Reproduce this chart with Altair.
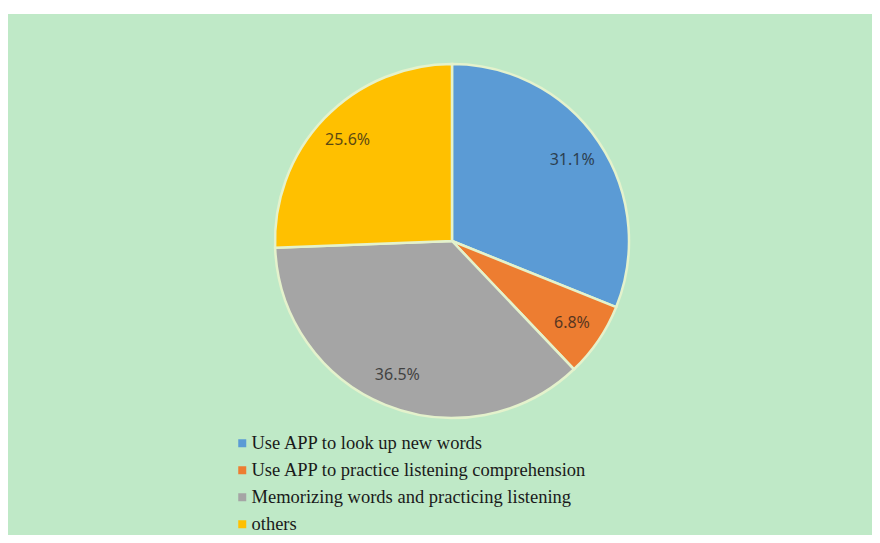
import altair as alt
import pandas as pd

categories = [
    "Use APP to look up new words",
    "Use APP to practice listening comprehension",
    "Memorizing words and practicing listening",
    "others",
]
values = [31.1, 6.8, 36.5, 25.6]
labels = ["31.1%", "6.8%", "36.5%", "25.6%"]
colors = ["#5B9BD5", "#ED7D31", "#A5A5A5", "#FFC000"]

df = pd.DataFrame({"category": categories, "value": values, "label": labels,
                   "order": list(range(len(categories)))})

W, H = 864, 521
cx, cy = 444, 227
R = 177

bg = alt.Chart(pd.DataFrame({"a": [0]})).mark_rect(color="#BFE9C7").encode(
    x=alt.value(0), x2=alt.value(W), y=alt.value(0), y2=alt.value(H)
)

base = alt.Chart(df).encode(
    theta=alt.Theta("value:Q", stack=True),
    order=alt.Order("order:Q"),
)

arc = base.mark_arc(outerRadius=R, stroke="#E4F2CC", strokeWidth=2.5).encode(
    color=alt.Color(
        "category:N",
        scale=alt.Scale(domain=categories, range=colors),
        legend=alt.Legend(
            title=None, orient="none", legendX=225, legendY=420,
            symbolType="square", symbolSize=64, symbolStrokeWidth=0,
            labelFont="Liberation Serif", labelFontSize=18.5, labelColor="#1a1a1a",
            rowPadding=8, labelOffset=0, padding=0, labelLimit=0,
        ),
    ),
    x=alt.value(cx),
    y=alt.value(cy),
)

text = base.mark_text(radius=145, font="Noto Sans", fontSize=16,
                      fill="#1a1a1a", opacity=0.72).encode(
    text="label:N", x=alt.value(cx), y=alt.value(cy)
)

chart = alt.layer(bg, arc, text).properties(
    width=W, height=H, background="white",
    padding={"left": 0, "top": 6, "right": 0, "bottom": 0},
    autosize=alt.AutoSizeParams(type="none"),
).configure_view(stroke=None)

chart.save("out.html", embed_options={"renderer": "svg", "actions": False})
